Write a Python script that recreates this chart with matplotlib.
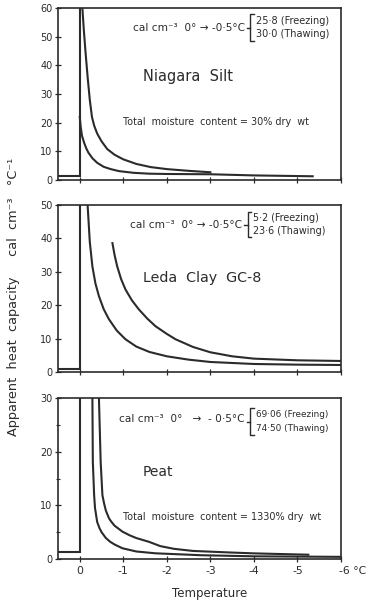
import matplotlib
matplotlib.use('Agg')
import matplotlib.pyplot as plt
import matplotlib.transforms as mtransforms

plt.rcParams['font.family'] = ['DejaVu Sans']

# temperature (deg C) and apparent heat capacity (cal cm-3 C-1) for each soil
silt_step_T = [0.5, 0.0, 0.0]
silt_step_C = [1.5, 1.5, 60]
silt_frz_T = [0.0, -0.02, -0.05, -0.1, -0.15, -0.2, -0.29, -0.4, -0.55, -0.71, -0.9,
              -1.24, -1.6, -2.0, -3.0, -4.0, -5.35]
silt_frz_C = [22, 18.7, 15.5, 13, 11, 9.5, 7.6, 6.0, 4.6, 3.8, 3.1, 2.5, 2.2, 2.1, 2.0, 1.6, 1.3]
silt_thw_T = [-0.06, -0.09, -0.13, -0.18, -0.23, -0.28, -0.33, -0.4, -0.5, -0.63, -0.8,
              -1.0, -1.3, -1.63, -2.0, -2.5, -3.0]
silt_thw_C = [60, 53, 45, 36, 28, 22, 19, 16.2, 13.5, 10.8, 8.8, 7.2, 5.6, 4.5, 3.8, 3.2, 2.7]

clay_step_T = [0.5, 0.0, 0.0]
clay_step_C = [1.0, 1.0, 50]
clay_frz_T = [-0.18, -0.23, -0.29, -0.36, -0.44, -0.55, -0.67, -0.85, -1.05, -1.3, -1.6,
              -2.0, -2.5, -3.0, -4.0, -5.0, -6.0]
clay_frz_C = [50, 39, 31.6, 26.5, 22.7, 18.8, 15.8, 12.4, 9.8, 7.6, 6.0, 4.7, 3.7, 3.0,
              2.4, 2.2, 2.1]
clay_thw_T = [-0.75, -0.8, -0.86, -0.95, -1.05, -1.2, -1.36, -1.55, -1.74, -2.0, -2.2,
              -2.6, -3.0, -3.5, -4.0, -5.0, -6.0]
clay_thw_C = [38.6, 35, 31.6, 27.8, 24.7, 21.4, 18.7, 16.0, 13.7, 11.4, 9.8, 7.5, 5.9,
              4.7, 4.0, 3.5, 3.3]

peat_step_T = [0.5, 0.0, 0.0]
peat_step_C = [1.36, 1.36, 30]
peat_frz_T = [-0.29, -0.3, -0.33, -0.35, -0.4, -0.45, -0.5, -0.6, -0.7, -0.8, -0.98,
              -1.3, -1.74, -2.8, -4.0, -5.0, -6.0]
peat_frz_C = [30, 18.1, 11.9, 9.5, 6.9, 5.8, 5.0, 3.9, 3.2, 2.7, 2.0, 1.4, 1.06, 0.7,
              0.5, 0.45, 0.4]
peat_thw_T = [-0.44, -0.48, -0.52, -0.56, -0.6, -0.67, -0.72, -0.8, -0.98, -1.15, -1.3,
              -1.59, -1.85, -2.16, -2.6, -3.5, -4.0, -5.25]
peat_thw_C = [30, 18.1, 11.9, 10.3, 9.0, 7.6, 7.0, 6.2, 5.1, 4.4, 3.9, 3.2, 2.4, 1.9,
              1.5, 1.2, 1.05, 0.8]

x_ticks = [0, -1, -2, -3, -4, -5, -6]
x_labels = ['0', '-1', '-2', '-3', '-4', '-5', '-6 °C']

names = ['Niagara  Silt', 'Leda  Clay  GC-8', 'Peat']
ymax = [60, 50, 30]
freeze_vals = ['25·8 (Freezing)', '5·2 (Freezing)', '69·06 (Freezing)']
thaw_vals = ['30·0 (Thawing)', '23·6 (Thawing)', '74·50 (Thawing)']
heads = ['cal cm⁻³  0° → -0·5°C', 'cal cm⁻³  0° → -0·5°C', 'cal cm⁻³  0°   →  - 0·5°C']
moisture = ['Total  moisture  content = 30% dry  wt', None,
            'Total  moisture  content = 1330% dry  wt']

ink = '#2b2b2b'
W, H = 380, 603
fig = plt.figure(figsize=(W / 100, H / 100), dpi=100)

boxes = [(8, 180), (205, 372), (398, 559)]
data = [
    (silt_step_T, silt_step_C, silt_frz_T, silt_frz_C, silt_thw_T, silt_thw_C),
    (clay_step_T, clay_step_C, clay_frz_T, clay_frz_C, clay_thw_T, clay_thw_C),
    (peat_step_T, peat_step_C, peat_frz_T, peat_frz_C, peat_thw_T, peat_thw_C),
]
name_pos = [(0.30, 0.60), (0.30, 0.56), (0.30, 0.54)]
name_fs = [10.5, 10.3, 10]
head_y = [0.885, 0.88, 0.87]
brace_x = [0.68, 0.67, 0.68]
val_y = [(0.924, 0.849), (0.92, 0.846), (0.895, 0.81)]
head_fs = [7.6, 7.6, 7.6]
val_fs = [7.0, 6.9, 6.4]
moist_y = [0.337, None, 0.26]

for i, (top, bot) in enumerate(boxes):
    ax = fig.add_axes([58 / W, (H - bot) / H, 283 / W, (bot - top) / H])
    st, sc, ft, fc, tt, tc = data[i]
    ax.plot(st, sc, color=ink, lw=1.5, solid_joinstyle='miter')
    ax.plot(ft, fc, color=ink, lw=1.5)
    ax.plot(tt, tc, color=ink, lw=1.5)
    ax.set_xlim(0.5, -6)
    ax.set_ylim(0, ymax[i])
    ax.set_yticks(range(0, ymax[i] + 1, 10))
    if i == 2:
        ax.set_yticks(range(5, 30, 10), minor=True)
    ax.set_xticks(x_ticks)
    for s in ax.spines.values():
        s.set_color(ink)
        s.set_linewidth(1.2)
    ax.tick_params(axis='y', direction='inout', length=4, width=0.9, color=ink,
                   labelsize=7, pad=2, labelcolor=ink)
    ax.tick_params(axis='y', which='minor', direction='inout', length=3, width=0.8, color=ink)
    ax.tick_params(axis='x', direction='inout', length=4, width=0.9, color=ink,
                   labelsize=7.8, pad=3, labelcolor=ink)
    if i == 2:
        ax.set_xticklabels(x_labels)
        lab = ax.get_xticklabels()[-1]
        lab.set_transform(lab.get_transform() +
                          mtransforms.ScaledTranslation(12 / 100, 0, fig.dpi_scale_trans))
        ax.set_xlabel('Temperature', fontsize=8.5, color=ink, labelpad=6)
        ax.xaxis.set_label_coords(0.535, -0.175)
    else:
        ax.set_xticklabels([])

    ax.text(name_pos[i][0], name_pos[i][1], names[i], transform=ax.transAxes,
            fontsize=name_fs[i], color=ink, va='center')
    ax.text(brace_x[i] - 0.02, head_y[i], heads[i], transform=ax.transAxes,
            fontsize=head_fs[i], color=ink, ha='right', va='center')

    # square bracket joining the freezing / thawing values
    bx = brace_x[i]
    y_hi, y_lo = val_y[i][0] + 0.04, val_y[i][1] - 0.04
    y_mid = (y_hi + y_lo) / 2
    ax.plot([bx + 0.012, bx, bx, bx + 0.012], [y_hi, y_hi, y_lo, y_lo],
            transform=ax.transAxes, color=ink, lw=1.0, clip_on=False)
    ax.plot([bx - 0.012, bx], [y_mid, y_mid], transform=ax.transAxes, color=ink,
            lw=1.0, clip_on=False)

    ax.text(bx + 0.018, val_y[i][0], freeze_vals[i], transform=ax.transAxes,
            fontsize=val_fs[i], color=ink, va='center')
    ax.text(bx + 0.018, val_y[i][1], thaw_vals[i], transform=ax.transAxes,
            fontsize=val_fs[i], color=ink, va='center')
    if moisture[i]:
        ax.text(0.23, moist_y[i], moisture[i], transform=ax.transAxes,
                fontsize=6.9, color=ink, va='center')

fig.text(14 / W, 1 - 297 / H, 'Apparent  heat  capacity     cal  cm⁻³   °C⁻¹',
         rotation=90, fontsize=9.3, color=ink, ha='center', va='center')

fig.savefig('out.png', dpi=100)
